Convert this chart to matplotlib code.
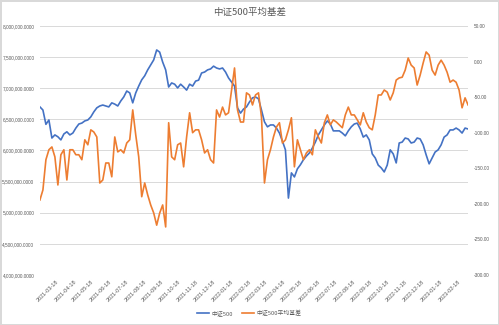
import numpy as np
import pandas as pd
import matplotlib
matplotlib.use("Agg")
import matplotlib.pyplot as plt
import matplotlib.dates as mdates
from matplotlib.ticker import FuncFormatter, MultipleLocator

plt.rcParams["font.family"] = ["Noto Sans CJK SC", "DejaVu Sans"]

# ---------- 数据 (从图上读取, 约每 3 个交易日一个点) ----------
start_date = "2021-02-18"
end_date = "2023-03-08"

csi500 = [
    6700, 6650, 6420, 6490, 6200, 6250, 6220, 6170, 6265, 6300,
    6250, 6280, 6360, 6425, 6440, 6475, 6490, 6540, 6620, 6685,
    6715, 6730, 6715, 6700, 6765, 6745, 6715, 6795, 6860, 6955,
    6925, 6765, 6925, 7035, 7135, 7200, 7295, 7375, 7455, 7615,
    7580, 7420, 7295, 7020, 7085, 7065, 7005, 7065, 7020, 6970,
    7065, 7035, 7115, 7130, 7245, 7260, 7295, 7310, 7355, 7325,
    7310, 7325, 7260, 7165, 7100, 7035, 6685, 6600, 6665, 6700,
    6780, 6845, 6860, 6830, 6650, 6460, 6380, 6410, 6410, 6360,
    6280, 6150, 6010, 5235, 5640, 5575, 5705, 5770, 5850, 5910,
    5960, 6040, 6135, 6250, 6330, 6410, 6475, 6425, 6315, 6315,
    6315, 6280, 6235, 6315, 6380, 6425, 6440, 6345, 6215, 6250,
    6170, 5945, 5880, 5765, 5720, 5655, 5765, 6010, 5945, 5800,
    6120, 6135, 6200, 6185, 6120, 6135, 6200, 6185, 6090, 5930,
    5785, 5880, 5975, 6010, 6090, 6215, 6250, 6330, 6330, 6360,
    6330, 6280, 6360, 6345,
]
csi500 = [v * 1000 for v in csi500]

basis = [
    -194.6, -180.5, -138.0, -124.0, -120.0, -134.0, -173.5, -131.0, -124.0, -166.5,
    -124.0, -124.0, -131.0, -131.0, -138.0, -110.0, -117.0, -96.0, -99.0, -106.0,
    -170.7, -166.5, -142.6, -142.6, -162.0, -106.0, -127.0, -124.0, -128.5, -114.5,
    -110.0, -68.0, -103.0, -134.0, -190.0, -170.7, -187.5, -201.6, -212.8, -230.0,
    -213.0, -201.6, -232.5, -86.0, -134.0, -138.0, -117.0, -114.5, -148.0, -106.0,
    -72.0, -100.0, -96.0, -96.0, -110.0, -128.5, -124.0, -138.0, -142.6, -68.0,
    -78.0, -64.0, -75.0, -72.0, -40.0, -9.0, -68.0, -85.0, -85.0, -44.0,
    -47.0, -61.0, -47.0, -44.0, -78.0, -170.7, -138.0, -124.0, -106.0, -92.0,
    -86.0, -114.5, -110.0, -96.0, -79.0, -148.0, -110.0, -124.0, -138.0, -128.5,
    -124.0, -131.0, -96.0, -106.0, -114.5, -86.0, -75.0, -89.0, -82.0, -85.0,
    -89.0, -93.0, -75.0, -64.0, -75.0, -75.0, -82.0, -89.0, -72.0, -85.0,
    -93.0, -96.0, -75.0, -47.0, -47.0, -40.0, -43.0, -54.0, -44.0, -26.0,
    -23.0, -22.0, -12.0, 5.0, -5.0, -9.0, -33.0, -19.0, -2.0, 13.5,
    9.0, -12.0, -19.0, -5.0, 2.0, -5.0, -15.0, -29.0, -26.0, -29.0,
    -40.0, -65.0, -51.0, -61.0,
]

tick_dates = pd.date_range("2021-02-18", "2023-02-18", freq="MS") + pd.Timedelta(days=17)

dates = pd.date_range(start_date, end_date, periods=len(csi500))

# ---------- 绘图 ----------
blue = "#4472C4"
orange = "#ED7D31"
txt = "#595959"
tick_font = "Liberation Sans"

fig = plt.figure(figsize=(4.99, 3.25), dpi=100)
fig.patch.set_edgecolor("#d9d9d9")
fig.patch.set_linewidth(1.0)
ax = fig.add_axes([0.080, 0.154, 0.858, 0.766])
ax2 = ax.twinx()

l1, = ax.plot(dates, csi500, color=blue, lw=1.2, label="中证500")
l2, = ax2.plot(dates, basis, color=orange, lw=1.2, label="中证500平均基差")

ax.set_ylim(4e6, 8e6)
ax.yaxis.set_major_locator(MultipleLocator(5e5))
ax.yaxis.set_major_formatter(FuncFormatter(lambda v, p: f"{v:,.4f}"))
ax2.set_ylim(-300, 50)
ax2.yaxis.set_major_locator(MultipleLocator(50))
ax2.yaxis.set_major_formatter(FuncFormatter(lambda v, p: f"{v:.2f}"))

ax.set_xlim(dates[0], dates[-1])
ax.set_xticks(tick_dates)
ax.xaxis.set_major_formatter(mdates.DateFormatter("%Y-%m-%d"))

ax.grid(axis="y", color="#d9d9d9", lw=0.7)
ax.set_axisbelow(True)
for a in (ax, ax2):
    for s in a.spines.values():
        s.set_visible(False)
    a.tick_params(length=0, colors=txt)
ax.tick_params(axis="y", pad=4)
ax.tick_params(axis="x", pad=3)
ax2.tick_params(axis="y", pad=4)

for lbl in ax.get_yticklabels() + ax2.get_yticklabels():
    lbl.set_fontfamily(tick_font)
    lbl.set_fontsize(3.4)
for lbl in ax.get_xticklabels():
    lbl.set_fontfamily(tick_font)
    lbl.set_fontsize(4.0)
    lbl.set_rotation(45)
    lbl.set_ha("right")
    lbl.set_rotation_mode("anchor")

fig.text(0.5, 0.962, "中证500平均基差", ha="center", va="center", fontsize=6.8, color=txt)

fig.legend(handles=[l1, l2], loc="center", bbox_to_anchor=(0.5, 0.038), ncol=2,
           frameon=False, fontsize=4.2, labelcolor=txt, handlelength=2.0,
           handletextpad=0.5, columnspacing=1.5)

fig.savefig("out.png", dpi=100)
